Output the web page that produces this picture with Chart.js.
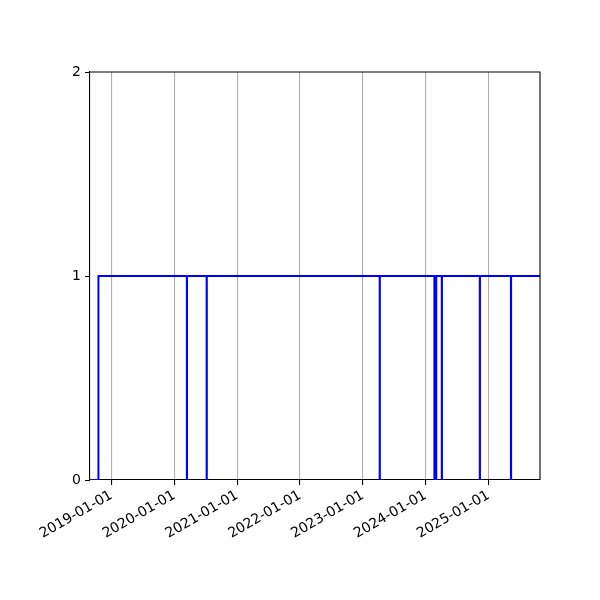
<!DOCTYPE html>
<html>
<head>
    <meta charset="UTF-8">
    <title>Step chart</title>
    <script src="https://cdn.jsdelivr.net/npm/chart.js"></script>
    <style>
        body {
            margin: 0;
            background-color: #ffffff;
        }
    </style>
</head>
<body>
<canvas id="stepChart" width="600" height="600"></canvas>

<script>
    // dates where the state changes, and the state from that date on
    const changeDates = ['2018-08-29', '2018-10-17', '2020-03-14', '2020-03-15', '2020-07-07', '2020-07-08',
        '2023-04-09', '2023-04-10', '2024-02-21', '2024-03-03', '2024-04-04', '2024-04-05',
        '2024-11-11', '2024-11-12', '2025-05-11', '2025-05-12', '2025-10-27'];
    const stateValues = [0, 1, 0, 1, 0, 1, 0, 1, 0, 1, 0, 1, 0, 1, 0, 1, 1];
    const yearTicks = ['2019-01-01', '2020-01-01', '2021-01-01', '2022-01-01', '2023-01-01', '2024-01-01', '2025-01-01'];
    const yTicks = [0, 1, 2];

    const toMs = s => new Date(s + 'T00:00:00Z').getTime();
    const points = changeDates.map((d, i) => ({x: toMs(d), y: stateValues[i]}));

    const font = {family: 'DejaVu Sans', size: 14};

    // top and right spines
    const frame = {
        id: 'frame',
        afterDraw(chart) {
            const a = chart.chartArea;
            const ctx = chart.ctx;
            ctx.save();
            ctx.strokeStyle = '#000000';
            ctx.lineWidth = 1.1;
            ctx.beginPath();
            ctx.moveTo(a.left, a.top);
            ctx.lineTo(a.right, a.top);
            ctx.lineTo(a.right, a.bottom);
            ctx.stroke();
            ctx.restore();
        }
    };

    new Chart(document.getElementById('stepChart'), {
        type: 'line',
        data: {
            datasets: [{
                data: points,
                // hold each value until the next date (like steps-post)
                stepped: 'before',
                borderColor: '#0000ff',
                borderWidth: 2,
                pointRadius: 0,
                fill: false
            }]
        },
        options: {
            responsive: false,
            animation: false,
            layout: {padding: {top: 72, right: 60, left: 0, bottom: 0}},
            plugins: {
                legend: {display: false},
                tooltip: {enabled: false}
            },
            scales: {
                x: {
                    type: 'linear',
                    min: points[0].x,
                    max: points[points.length - 1].x,
                    afterBuildTicks: scale => {
                        scale.ticks = yearTicks.map(t => ({value: toMs(t)}));
                    },
                    afterFit: scale => { scale.height = 120; },
                    ticks: {
                        color: '#000000',
                        font: font,
                        maxRotation: 30,
                        minRotation: 30,
                        padding: 2,
                        callback: v => new Date(v).toISOString().slice(0, 10)
                    },
                    grid: {
                        color: '#b0b0b0',
                        lineWidth: 1.1,
                        tickColor: '#000000',
                        tickLength: 5
                    },
                    border: {color: '#000000', width: 1.1}
                },
                y: {
                    min: 0,
                    max: 2,
                    afterBuildTicks: scale => {
                        scale.ticks = yTicks.map(v => ({value: v}));
                    },
                    afterFit: scale => { scale.width = 90; },
                    ticks: {
                        color: '#000000',
                        font: font,
                        padding: 4
                    },
                    grid: {
                        drawOnChartArea: false,
                        tickColor: '#000000',
                        tickLength: 5
                    },
                    border: {color: '#000000', width: 1.1}
                }
            }
        },
        plugins: [frame]
    });
</script>
</body>
</html>
